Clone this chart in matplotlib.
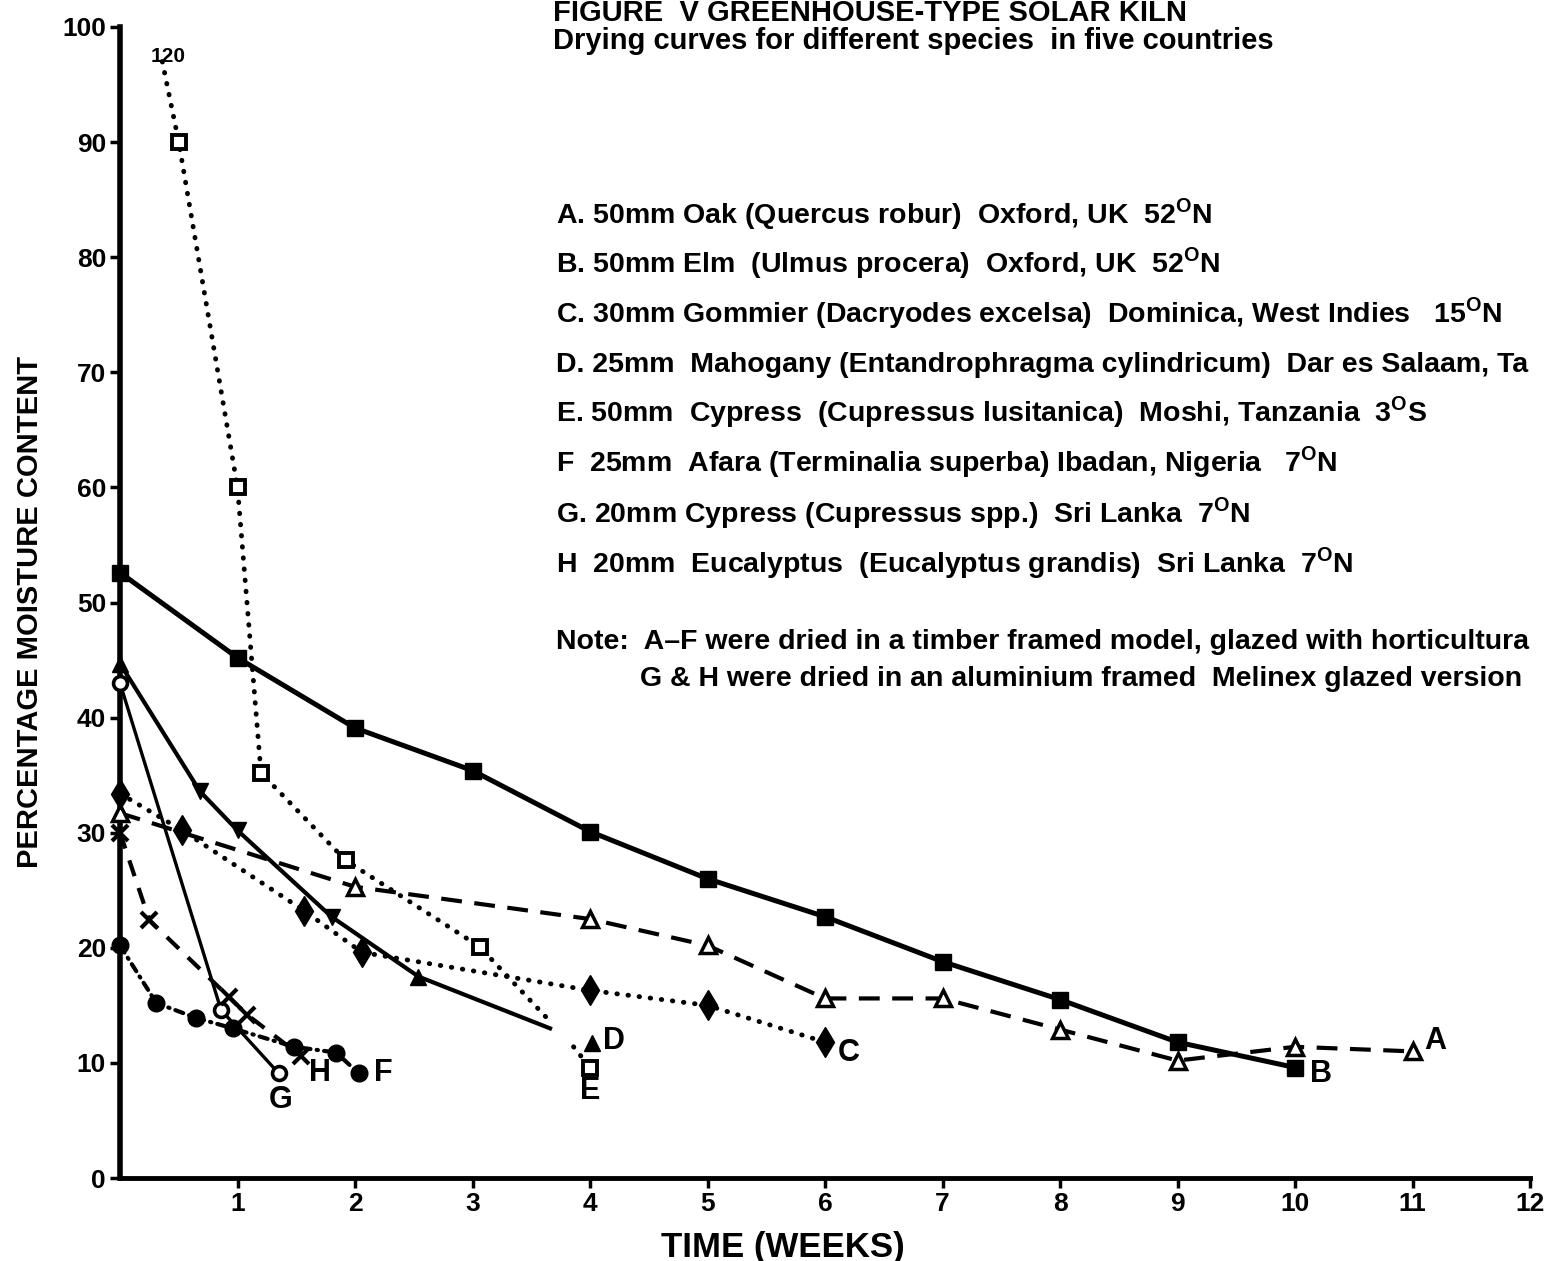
import matplotlib
matplotlib.use("Agg")
import matplotlib.pyplot as plt

plt.rcParams['font.family'] = ['Liberation Sans', 'DejaVu Sans']
plt.rcParams['font.weight'] = 'bold'
plt.rcParams['mathtext.fontset'] = 'custom'
plt.rcParams['mathtext.rm'] = 'Liberation Sans:bold'
plt.rcParams['mathtext.bf'] = 'Liberation Sans:bold'

# Drying curves, moisture content (%) vs time (weeks)
a_x = [0, 2, 4, 5, 6, 7, 8, 9, 10, 11]
a_y = [31.7, 25.3, 22.5, 20.2, 15.6, 15.6, 12.9, 10.2, 11.4, 11.0]

b_x = [0, 1, 2, 3, 4, 5, 6, 7, 8, 9, 10]
b_y = [52.6, 45.2, 39.1, 35.4, 30.1, 26.0, 22.7, 18.8, 15.5, 11.8, 9.6]

c_x = [0, 0.53, 1.57, 2.06, 4, 5, 6]
c_y = [33.4, 30.2, 23.2, 19.6, 16.3, 15.0, 11.8]

d_x = [0, 0.68, 1.0, 1.8, 2.54, 3.66]
d_y = [44.7, 33.6, 30.2, 22.7, 17.5, 13.0]
d_end_x = [4.02]
d_end_y = [11.7]

e_x = [0.36, 0.5, 1.0, 1.2, 1.92, 3.06, 3.67]
e_y = [97.0, 90.0, 60.0, 35.2, 27.6, 20.1, 13.5]
e_end_x = [3.86, 4.0]
e_end_y = [11.4, 9.6]

f_x = [0, 0.31, 0.65, 0.96, 1.48, 1.84, 2.03]
f_y = [20.2, 15.2, 13.9, 13.0, 11.4, 10.9, 9.1]

g_x = [0, 0.86, 1.35]
g_y = [43.0, 14.6, 9.1]

h_x = [0, 0.25, 0.93, 1.08, 1.54]
h_y = [30.0, 22.4, 15.7, 14.2, 10.6]

# end-of-curve letters and the off-scale start value of E
curve_labels = ['120', 'A', 'B', 'C', 'D', 'E', 'F', 'G', 'H']
label_x = [0.41, 11.19, 10.22, 6.2, 4.2, 4.0, 2.24, 1.37, 1.70]
label_y = [97.4, 11.9, 9.0, 10.9, 11.9, 7.6, 9.1, 6.8, 9.1]

legend_lines = [
    r'A. 50mm Oak (Quercus robur)  Oxford, UK  52$^{\mathbf{O}}$N',
    r'B. 50mm Elm  (Ulmus procera)  Oxford, UK  52$^{\mathbf{O}}$N',
    r'C. 30mm Gommier (Dacryodes excelsa)  Dominica, West Indies   15$^{\mathbf{O}}$N',
    r'D. 25mm  Mahogany (Entandrophragma cylindricum)  Dar es Salaam, Ta',
    r'E. 50mm  Cypress  (Cupressus lusitanica)  Moshi, Tanzania  3$^{\mathbf{O}}$S',
    r'F  25mm  Afara (Terminalia superba) Ibadan, Nigeria   7$^{\mathbf{O}}$N',
    r'G. 20mm Cypress (Cupressus spp.)  Sri Lanka  7$^{\mathbf{O}}$N',
    r'H  20mm  Eucalyptus  (Eucalyptus grandis)  Sri Lanka  7$^{\mathbf{O}}$N',
]
legend_y_px = [214, 263, 313, 363, 412, 462, 513, 563]

W, H = 1550, 1261
fig = plt.figure(figsize=(W / 100, H / 100), dpi=100)
ax = fig.add_axes([120 / W, 1 - 1178 / H, 1410 / W, (1178 - 27) / H])

ax.plot(b_x, b_y, color='black', lw=3.6, marker='s', ms=12, clip_on=False, zorder=5)
ax.plot(a_x, a_y, color='black', lw=3, ls=(0, (5, 3)), marker='^', ms=11,
        mfc='white', mew=2.5, clip_on=False, zorder=4)
ax.plot(c_x, c_y, color='black', lw=3.5, ls=(0, (0.1, 2.2)), dash_capstyle='round',
        marker='d', ms=15, clip_on=False, zorder=4)
ax.plot(d_x, d_y, color='black', lw=3, clip_on=False, zorder=4)
d_marks = ['^', 'v', 'v', 'v', '^']
for x, y, m in zip(d_x[:5], d_y[:5], d_marks):
    ax.plot(x, y, color='black', marker=m, ms=12, clip_on=False, zorder=5)
ax.plot(d_end_x, d_end_y, color='black', marker='^', ms=12, ls='none', zorder=5)
ax.plot(e_x, e_y, color='black', lw=3.5, ls=(0, (0.1, 2.2)), dash_capstyle='round',
        marker='s', ms=10, mfc='white', mew=2.8, markevery=[1, 2, 3, 4, 5], clip_on=False, zorder=4)
ax.plot(e_end_x, e_end_y, color='black', lw=3.5, ls=(0, (0.1, 2.2)), dash_capstyle='round',
        marker='s', ms=10, mfc='white', mew=2.8, markevery=[1], zorder=4)
ax.plot(f_x, f_y, color='black', lw=3, ls=(0, (2, 1.5, 0.3, 1.5)), dash_capstyle='round',
        marker='o', ms=12, clip_on=False, zorder=4)
ax.plot(g_x, g_y, color='black', lw=2.4, marker='o', ms=10, mfc='white', mew=2.6,
        clip_on=False, zorder=4)
ax.plot(h_x, h_y, color='black', lw=3, ls=(0, (4, 3)), marker='x', ms=12, mew=3,
        clip_on=False, zorder=4)

for t, x, y in zip(curve_labels, label_x, label_y):
    fs = 15 if t == '120' else 22
    ax.text(x, y, t, ha='center', va='center', fontsize=fs, fontweight='bold')

ax.set_xlim(0, 12)
ax.set_ylim(0, 100)
ax.set_xticks(range(1, 13))
ax.set_yticks(range(0, 101, 10))
ax.tick_params(axis='both', direction='out', length=7, width=2.5, labelsize=19, pad=3)
for s in ['top', 'right']:
    ax.spines[s].set_visible(False)
ax.spines['left'].set_linewidth(4)
ax.spines['bottom'].set_linewidth(3.5)
ax.patch.set_alpha(0)

fig.text(783 / W, 1 - 1247 / H, 'TIME (WEEKS)', ha='center', va='center', fontsize=25)
fig.text(30 / W, 1 - 612 / H, 'PERCENTAGE MOISTURE CONTENT', ha='center', va='center',
         rotation=90, fontsize=21)

fig.text(553 / W, 1 - 21 / H, 'FIGURE  V GREENHOUSE-TYPE SOLAR KILN', ha='left',
         va='baseline', fontsize=21)
fig.text(553 / W, 1 - 49 / H, 'Drying curves for different species  in five countries',
         ha='left', va='baseline', fontsize=21)

for line, y in zip(legend_lines, legend_y_px):
    fig.text(556 / W, 1 - (y + 9) / H, line, ha='left', va='baseline', fontsize=20.5)

fig.text(556 / W, 1 - (640 + 9) / H,
         'Note:  A\u2013F were dried in a timber framed model, glazed with horticultura',
         ha='left', va='baseline', fontsize=20.5)
fig.text(640 / W, 1 - (677 + 9) / H,
         'G & H were dried in an aluminium framed  Melinex glazed version',
         ha='left', va='baseline', fontsize=20.5)

fig.savefig('out.png', dpi=100)
